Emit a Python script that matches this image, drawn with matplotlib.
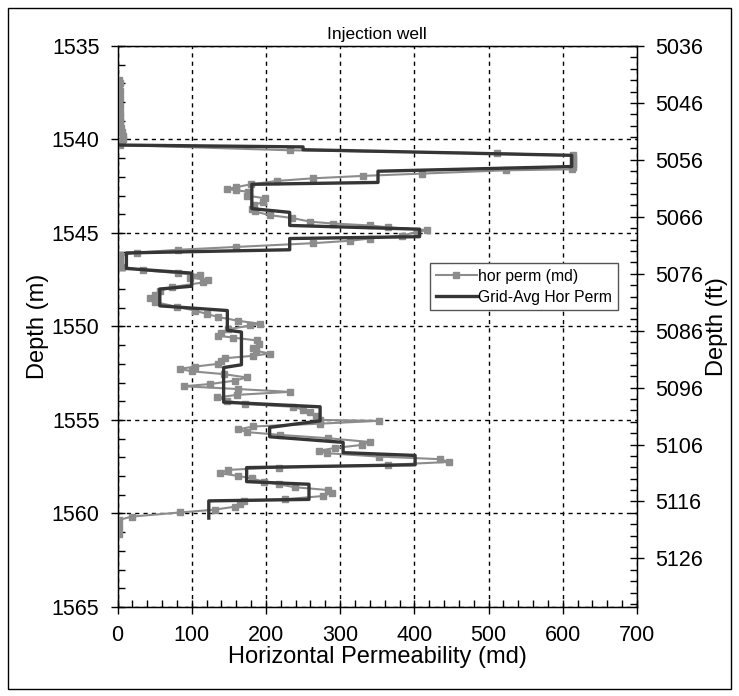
import numpy as np
import matplotlib
matplotlib.use("Agg")
import matplotlib.pyplot as plt
from matplotlib.ticker import MultipleLocator, FixedLocator
from matplotlib.patches import Rectangle

plt.rcParams['font.family'] = ['Liberation Sans', 'DejaVu Sans']

# measured horizontal permeability (md) vs depth (m)
perm_depth = [1536.8, 1537.0, 1537.2, 1537.4, 1537.6, 1537.8, 1538.0, 1538.2, 1538.4, 1538.6,
              1538.8, 1539.0, 1539.2, 1539.4, 1539.6, 1539.8, 1540.0, 1540.15, 1540.3,
              1540.58, 1540.74, 1540.85, 1541.0, 1541.15, 1541.3, 1541.45, 1541.6,
              1541.65, 1541.83, 1541.95, 1542.08, 1542.22, 1542.4, 1542.55, 1542.65,
              1542.72, 1542.8, 1543.0, 1543.15, 1543.35, 1543.5, 1543.7, 1543.85,
              1544.05, 1544.2, 1544.4, 1544.5, 1544.6, 1544.7, 1544.85, 1544.95,
              1545.15, 1545.3, 1545.42, 1545.55, 1545.75, 1545.9, 1546.05, 1546.2,
              1546.35, 1546.5, 1546.65, 1546.8, 1547.0, 1547.15, 1547.25, 1547.4,
              1547.5, 1547.65, 1547.9, 1548.1, 1548.3, 1548.5, 1548.7, 1548.95,
              1549.15, 1549.33, 1549.5, 1549.7, 1549.86, 1549.95, 1550.15, 1550.35,
              1550.5, 1550.6, 1550.75, 1550.95, 1551.15, 1551.3, 1551.45, 1551.57,
              1551.7, 1551.85, 1552.0, 1552.15, 1552.27, 1552.4, 1552.55, 1552.73,
              1552.9, 1553.08, 1553.2, 1553.35, 1553.5, 1553.66, 1553.8, 1553.97,
              1554.15, 1554.3, 1554.45, 1554.6, 1554.8, 1555.0, 1555.05, 1555.2,
              1555.35, 1555.5, 1555.65, 1555.8, 1555.98, 1556.18, 1556.34, 1556.5,
              1556.65, 1556.78, 1556.96, 1557.1, 1557.25, 1557.4, 1557.55, 1557.67,
              1557.85, 1558.0, 1558.13, 1558.3, 1558.44, 1558.6, 1558.75, 1558.9,
              1559.07, 1559.24, 1559.33, 1559.5, 1559.64, 1559.8, 1559.95, 1560.17,
              1560.35, 1560.55, 1560.75, 1560.95, 1561.1]
perm_md = [2, 3, 2, 3, 2, 3, 2, 3, 2, 3,
           4, 3, 4, 5, 6, 7, 8, 6, 3,
           232, 511, 614, 614, 614, 614, 614, 612,
           524, 410, 331, 263, 215, 180, 160, 148,
           160, 176, 174, 199, 196, 184, 181, 185,
           205, 235, 260, 291, 340, 365, 417, 403,
           383, 340, 313, 263, 160, 82, 26, 4,
           3, 2, 3, 6, 35, 82, 111, 98,
           122, 115, 73, 57, 50, 44, 51, 80,
           104, 120, 136, 163, 192, 179, 149, 140,
           136, 156, 188, 190, 183, 186, 205, 183,
           145, 140, 136, 104, 84, 100, 143, 174,
           158, 125, 89, 163, 232, 161, 134, 147,
           172, 237, 250, 259, 268, 273, 352, 273,
           183, 163, 174, 219, 284, 340, 329, 293,
           271, 282, 352, 435, 446, 365, 217, 149,
           138, 163, 181, 197, 217, 239, 284, 289,
           277, 226, 170, 165, 158, 131, 84, 19,
           2, 1, 2, 1, 2]

# grid-averaged blocks: top depth, bottom depth, value
blk_top = [1540.25, 1540.4, 1540.85, 1541.7, 1542.4, 1543.9, 1544.8, 1545.3, 1546.07,
           1547.15, 1548.0, 1549.15, 1550.3, 1552.2, 1554.3, 1555.4, 1556.2, 1556.9,
           1557.55, 1558.44, 1559.33]
blk_bot = [1540.3, 1540.55, 1541.45, 1542.3, 1543.7, 1544.6, 1545.2, 1545.9, 1546.9,
           1547.85, 1548.9, 1550.2, 1552.05, 1554.05, 1555.05, 1555.9, 1556.75, 1557.4,
           1558.3, 1559.25, 1560.25]
blk_val = [0, 250, 612, 351, 181, 232, 407, 232, 12,
           100, 57, 148, 167, 143, 273, 205, 304, 401,
           174, 258, 123]

fig = plt.figure(figsize=(7.39, 6.96), dpi=100)
ax = fig.add_axes([0.159, 0.128, 0.703, 0.806])

ax.plot(perm_md, perm_depth, color='#8c8c8c', lw=1.5, marker='s', ms=4.5,
        mfc='#8c8c8c', mec='#8c8c8c', label='hor perm (md)', zorder=3)

avg_depth = np.column_stack([blk_top, blk_bot]).ravel()
avg_val = np.repeat(blk_val, 2)
ax.plot(avg_val, avg_depth, color='#353535', lw=2.4, label='Grid-Avg Hor Perm', zorder=4)

ax.set_xlim(0, 700)
ax.set_ylim(1565, 1535)
ax.xaxis.set_major_locator(MultipleLocator(100))
ax.xaxis.set_minor_locator(MultipleLocator(20))
ax.yaxis.set_major_locator(MultipleLocator(5))
ax.yaxis.set_minor_locator(MultipleLocator(1))
ax.tick_params(which='major', direction='inout', length=10, width=1, labelsize=15.5, pad=8)
ax.tick_params(which='minor', direction='in', length=5, width=1)
ax.grid(True, which='major', color='black', ls=(0, (3, 3)), lw=1)
ax.set_xlabel('Horizontal Permeability (md)', fontsize=17, labelpad=0)
ax.set_ylabel('Depth (m)', fontsize=17, labelpad=2)
ax.set_title('Injection well', fontsize=12.5, pad=5)
for s in ax.spines.values():
    s.set_linewidth(1)

ft = 3.28084
ax2 = ax.twinx()
ax2.set_ylim(1565 * ft, 5035.99)
ax2.yaxis.set_major_locator(FixedLocator(np.arange(5036, 5130, 10)))
ax2.yaxis.set_minor_locator(FixedLocator(np.arange(5036, 5135, 2)))
ax2.tick_params(which='major', direction='inout', length=10, width=1, labelsize=15.5, pad=8)
ax2.tick_params(which='minor', direction='in', length=5, width=1)
ax2.set_ylabel('Depth (ft)', fontsize=17, labelpad=2)

leg = ax.legend(loc='upper left', bbox_to_anchor=(0.587, 0.627), fontsize=11.3,
                frameon=True, fancybox=False, edgecolor='#555555', framealpha=1,
                handlelength=2.6, borderpad=0.35, labelspacing=0.4, handletextpad=0.1)
leg.get_frame().set_linewidth(1)

fig.patches.append(Rectangle((0.011, 0.01), 0.978, 0.979, transform=fig.transFigure,
                             fill=False, edgecolor='black', lw=1))

fig.savefig('out.png', dpi=100)
